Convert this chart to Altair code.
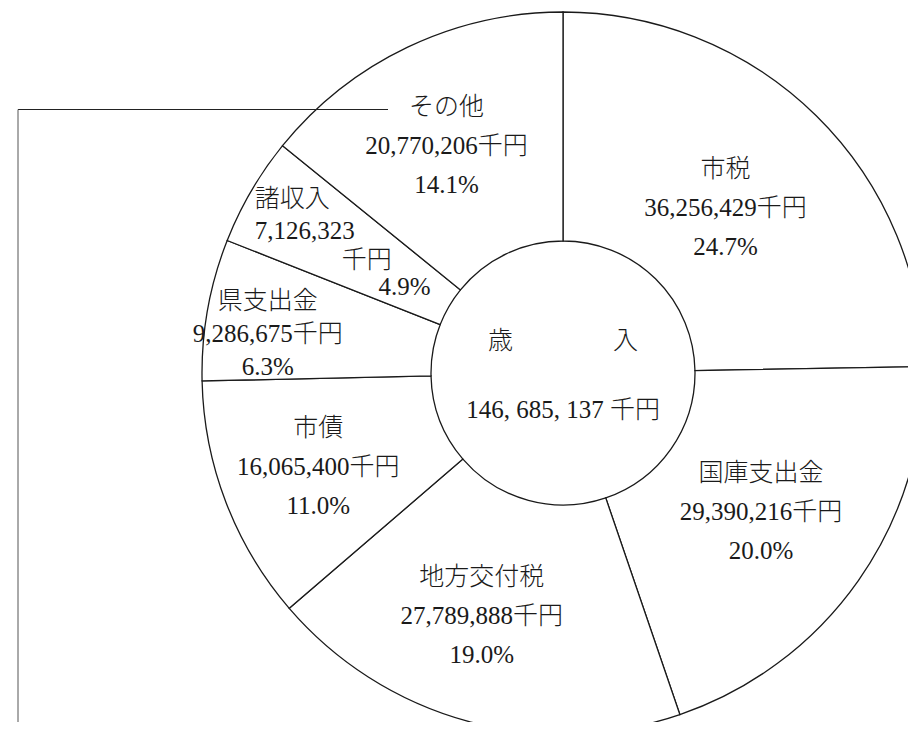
import math
import altair as alt
import pandas as pd

# ---- data ----
categories = ["市税", "国庫支出金", "地方交付税", "市債", "県支出金", "諸収入", "その他"]
amounts = [36256429, 29390216, 27789888, 16065400, 9286675, 7126323, 20770206]
percents = ["24.7%", "20.0%", "19.0%", "11.0%", "6.3%", "4.9%", "14.1%"]
unit = "千円"
center_title = "歳　　　　入"
center_total = "146, 685, 137 千円"

# ---- layout ----
CX, CY = 555, 365
R_OUT, R_IN = 361, 132
FONT = "Liberation Serif, Noto Sans CJK JP"
FS = 25
FW = 300
INK = "#1a1a1a"
LABEL_R = {"市税": 232, "国庫支出金": 242, "地方交付税": 252, "市債": 262,
           "県支出金": 300, "諸収入": 254, "その他": 252}

total = sum(amounts)
rows, cum = [], 0
for c, a, p in zip(categories, amounts, percents):
    t0 = cum / total * 2 * math.pi
    cum += a
    t1 = cum / total * 2 * math.pi
    rows.append(dict(cat=c, t0=t0, t1=t1, tm=(t0 + t1) / 2,
                     label=f"{c}\n{a:,}{unit}\n{p}",
                     partA=f"{c}\n{a:,}", unit=unit, pct=p))
df = pd.DataFrame(rows)
df["lr"] = df["cat"].map(LABEL_R)

base = alt.Chart(df)

arcs = base.mark_arc(fill="white", stroke=INK, strokeWidth=1.3,
                     radius=R_OUT, radius2=R_IN).encode(
    theta=alt.Theta("t0:Q", scale=None),
    theta2="t1:Q",
    x=alt.value(CX), y=alt.value(CY),
)

pos = dict(x=alt.value(CX), y=alt.value(CY),
           theta=alt.Theta("tm:Q", scale=None, stack=False),
           radius=alt.Radius("lr:Q", scale=None))

txt = dict(font=FONT, fontSize=FS, fontWeight=FW, lineBreak="\n",
           baseline="middle", color=INK)


def label_layer(cat_list, lh=39, dx=0, dy=0):
    return base.transform_filter(
        alt.FieldOneOfPredicate(field="cat", oneOf=cat_list)
    ).mark_text(lineHeight=lh, dx=dx, dy=dy - lh, align="center", **txt).encode(
        text="label:N", **pos)


labels_main = label_layer(["市税", "国庫支出金", "市債"])
labels_chiho = label_layer(["地方交付税"], dx=-15)
labels_other = label_layer(["その他"], dx=-8)
labels_ken = label_layer(["県支出金"], lh=33, dy=14)

sho = base.transform_filter(alt.FieldEqualPredicate(field="cat", equal="諸収入"))
labels_sho_a = sho.mark_text(lineHeight=32, dx=-89, dy=-46, align="left", **txt).encode(
    text="partA:N", **pos)
labels_sho_b = sho.mark_text(dx=23, dy=15, align="center", **txt).encode(
    text="unit:N", **pos)
labels_sho_c = sho.mark_text(dx=61, dy=42, align="center", **txt).encode(
    text="pct:N", **pos)

cdf = pd.DataFrame({"title": [center_title], "total": [center_total]})
c_title = alt.Chart(cdf).mark_text(dy=-32, align="center", **txt).encode(
    x=alt.value(CX), y=alt.value(CY), text="title:N")
c_total = alt.Chart(cdf).mark_text(dy=37, align="center", **txt).encode(
    x=alt.value(CX), y=alt.value(CY), text="total:N")

one = pd.DataFrame({"k": [0]})
h_rule = alt.Chart(one).mark_rule(color="#222222", strokeWidth=1).encode(
    x=alt.value(10), x2=alt.value(380), y=alt.value(101.5))
v_rule = alt.Chart(one).mark_rule(color="#555555", strokeWidth=1).encode(
    x=alt.value(10), y=alt.value(101.5), y2=alt.value(760))

chart = alt.layer(
    arcs, h_rule, v_rule, labels_main, labels_chiho, labels_other, labels_ken,
    labels_sho_a, labels_sho_b, labels_sho_c, c_title, c_total
).properties(
    width=900, height=714, padding=0, background="white",
    autosize=alt.AutoSizeParams(type="none")
).configure_view(stroke=None)

chart.save("out.html", embed_options={"renderer": "svg", "actions": False})
